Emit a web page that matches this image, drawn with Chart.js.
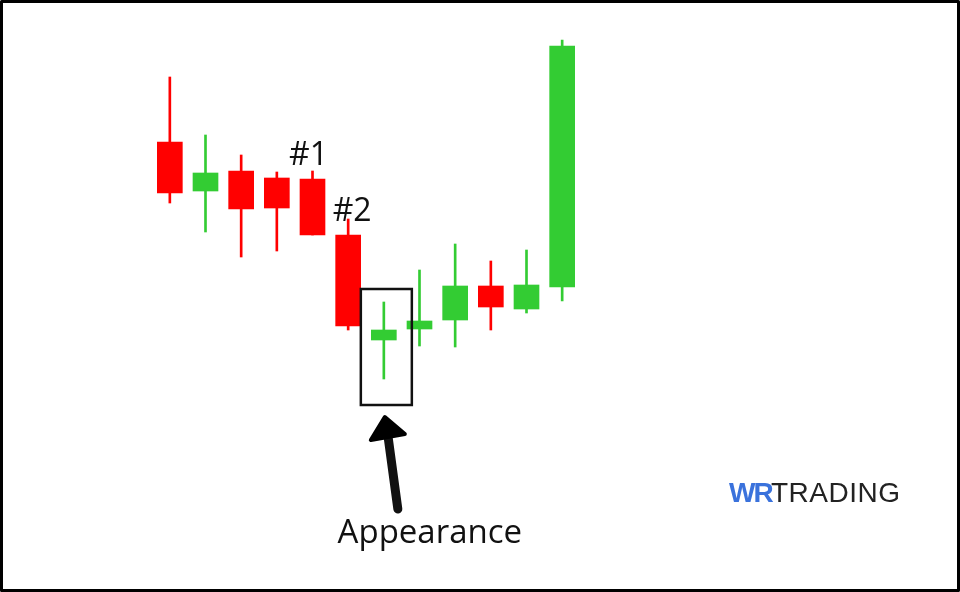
<!DOCTYPE html>
<html>
<head>
<meta charset="utf-8">
<script src="https://cdn.jsdelivr.net/npm/chart.js@4"></script>
<style>
  html, body { margin: 0; padding: 0; background: #fff; }
  #wrap { width: 960px; height: 592px; }
</style>
</head>
<body>
<div id="wrap"><canvas id="myChart" width="960" height="592"></canvas></div>
<script>
const labels = ['1', '2', '3', '4', '5', '6', '7', '8', '9', '10', '11', '12'];
const opens  = [129, 104.5, 114.5, 111, 110.5, 82.5, 30, 35.5, 40, 57, 45.5, 56.5];
const closes = [103.5, 113.5, 95.5, 96, 82.5, 37, 35, 39.5, 57, 46.5, 57.5, 177];
const highs  = [161.5, 132.5, 122.5, 114, 114.5, 90.5, 49, 65, 78, 69.5, 75, 180];
const lows   = [98.5, 84, 71.5, 74.5, 82.5, 35, 10.5, 27, 26.5, 35, 43.5, 49.5];

const UP = '#33cc33';
const DOWN = '#ff0000';

window.onload = function() {
  const colors = opens.map((o, i) => closes[i] >= o ? UP : DOWN);

  const data = {
    labels: labels,
    datasets: [
      {
        label: 'wicks',
        data: lows.map((l, i) => [l, highs[i]]),
        backgroundColor: colors,
        barThickness: 2,
        grouped: false,
        order: 2
      },
      {
        label: 'bodies',
        data: opens.map((o, i) => [o, closes[i]]),
        backgroundColor: colors,
        barThickness: 25,
        grouped: false,
        order: 1
      }
    ]
  };

  // text, box and arrow drawn over the candles
  const notes = {
    id: 'notes',
    afterDraw(chart) {
      const ctx = chart.ctx;
      const x = chart.scales.x, y = chart.scales.y;
      ctx.save();
      ctx.fillStyle = '#111';
      ctx.font = '32px "Open Sans"';
      ctx.textAlign = 'center';
      ctx.textBaseline = 'alphabetic';
      ctx.fillText('#1', x.getPixelForValue(4) - 4, y.getPixelForValue(highs[4]) - 6);
      ctx.fillText('#2', x.getPixelForValue(5) + 4, y.getPixelForValue(highs[5]) + 2);

      // box round the appearance candle
      const cx = x.getPixelForValue(6);
      const top = y.getPixelForValue(highs[6]) - 13;
      const bot = y.getPixelForValue(lows[6]) + 26;
      ctx.strokeStyle = '#111';
      ctx.lineWidth = 2.5;
      ctx.strokeRect(cx - 23, top, 51, bot - top);

      // arrow
      ctx.lineCap = 'round';
      ctx.lineJoin = 'round';
      ctx.lineWidth = 9;
      ctx.beginPath();
      ctx.moveTo(cx + 14, bot + 104);
      ctx.lineTo(cx + 4, bot + 30);
      ctx.stroke();
      ctx.fillStyle = '#000';
      ctx.strokeStyle = '#000';
      ctx.lineWidth = 4;
      ctx.beginPath();
      ctx.moveTo(cx + 1, bot + 12);
      ctx.lineTo(cx - 13, bot + 35);
      ctx.lineTo(cx + 21, bot + 29);
      ctx.closePath();
      ctx.fill();
      ctx.stroke();

      ctx.fillStyle = '#111';
      ctx.font = '33px "Open Sans"';
      ctx.fillText('Appearance', cx + 46, bot + 138);

      // logo
      ctx.textAlign = 'left';
      ctx.letterSpacing = '-2px';
      ctx.font = 'bold 28px "Liberation Sans"';
      ctx.fillStyle = '#3a72dc';
      ctx.fillText('WR', 729, 502);
      ctx.letterSpacing = '0.5px';
      ctx.font = '28px "Liberation Sans"';
      ctx.fillStyle = '#222';
      ctx.fillText('TRADING', 771, 502);

      // frame
      ctx.strokeStyle = '#000';
      ctx.lineWidth = 3;
      ctx.strokeRect(1.5, 1.5, 957, 589);
      ctx.restore();
    }
  };

  const config = {
    type: 'bar',
    data: data,
    options: {
      responsive: false,
      animation: false,
      layout: { padding: { left: 152, right: 380, top: 0, bottom: 0 } },
      plugins: {
        legend: { display: false },
        tooltip: { enabled: false }
      },
      scales: {
        x: { display: false },
        y: { display: false, min: -96, max: 200 }
      },
      elements: { bar: { borderWidth: 0, borderSkipped: false } }
    },
    plugins: [notes]
  };

  const myChart = new Chart(
    document.getElementById('myChart').getContext('2d'),
    config
  );
}
</script>
</body>
</html>
